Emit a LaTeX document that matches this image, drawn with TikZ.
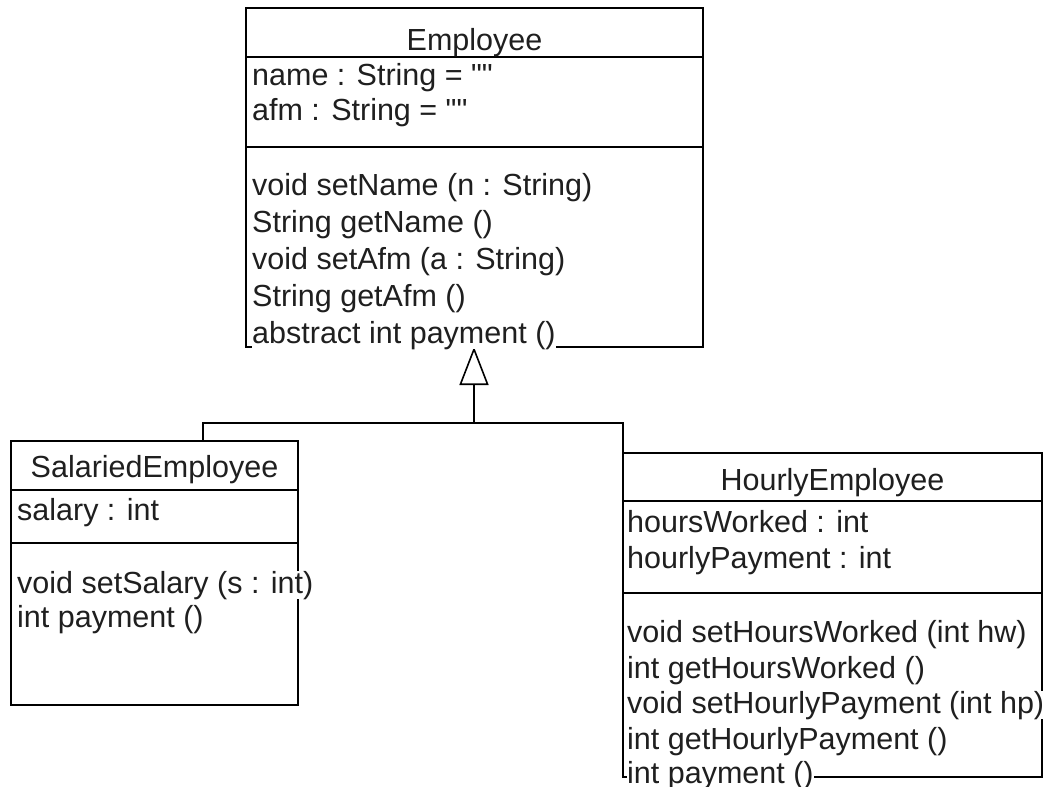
\documentclass[tikz,border=0pt]{standalone}
\usepackage{fontspec}
\setmainfont{Liberation Sans}[Ligatures=TeXOff]
\usetikzlibrary{arrows.meta}
\newcommand{\dq}{\symbol{34}}
\begin{document}
\begin{tikzpicture}[x=1pt,y=-1pt,
  classbox/.style={draw=black, line width=1.6pt, rectangle, inner sep=0pt, outer sep=0pt},
  rule/.style={draw=black, line width=1.6pt},
  member/.style={anchor=base west, inner sep=0pt, fill=white, text=black!88, font=\fontsize{30.5}{36}\selectfont},
  classname/.style={member, anchor=base},
  link/.style={draw=black, line width=1.6pt},
  gen/.style={-{Triangle[open, fill=white, length=38pt, width=29pt]}}
]
\useasboundingbox (0,0) rectangle (1047,787);

% class frames
\node[classbox, minimum width=457pt, minimum height=339pt] (emp) at (474.5,177.5) {};
\node[classbox, minimum width=287pt, minimum height=264pt] (sal) at (154.5,573) {};
\node[classbox, minimum width=419pt, minimum height=324pt] (hr)  at (832.5,615) {};

% compartment separators
\draw[rule] (emp.west |- 0,57)  -- (emp.east |- 0,57);
\draw[rule] (emp.west |- 0,147) -- (emp.east |- 0,147);
\draw[rule] (sal.west |- 0,490) -- (sal.east |- 0,490);
\draw[rule] (sal.west |- 0,543) -- (sal.east |- 0,543);
\draw[rule] (hr.west |- 0,501)  -- (hr.east |- 0,501);
\draw[rule] (hr.west |- 0,593)  -- (hr.east |- 0,593);

% generalisation
\coordinate (split) at (474,423);
\coordinate (lft) at (203,423);
\draw[link] (sal.north -| lft) |- (split) -| (hr.north west);
\draw[link, gen] (split) -- (emp.south -| split);

% Employee
\node[classname] (empN) at (474.5,50) {Employee};
\node[member] (empA1) at (252,85)  {name : String = \dq\dq};
\node[member] (empA2) at (252,120) {afm : String = \dq\dq};
\node[member] (empM1) at (252,195) {void setName (n : String)};
\node[member] (empM2) at (252,232) {String getName ()};
\node[member] (empM3) at (252,269) {void setAfm (a : String)};
\node[member] (empM4) at (252,306) {String getAfm ()};
\node[member] (empM5) at (252,343) {abstract int payment ()};

% SalariedEmployee
\node[classname] (salN) at (154.5,477) {SalariedEmployee};
\node[member] (salA1) at (17,520) {salary : int};
\node[member] (salM1) at (17,593) {void setSalary (s : int)};
\node[member] (salM2) at (17,627) {int payment ()};

% HourlyEmployee
\node[classname] (hrN) at (832.5,490) {HourlyEmployee};
\node[member] (hrA1) at (627,532) {hoursWorked : int};
\node[member] (hrA2) at (627,568) {hourlyPayment : int};
\node[member] (hrM1) at (627,642) {void setHoursWorked (int hw)};
\node[member] (hrM2) at (627,678) {int getHoursWorked ()};
\node[member] (hrM3) at (627,713) {void setHourlyPayment (int hp)};
\node[member] (hrM4) at (627,749) {int getHourlyPayment ()};
\node[member] (hrM5) at (627,783) {int payment ()};
\end{tikzpicture}
\end{document}
